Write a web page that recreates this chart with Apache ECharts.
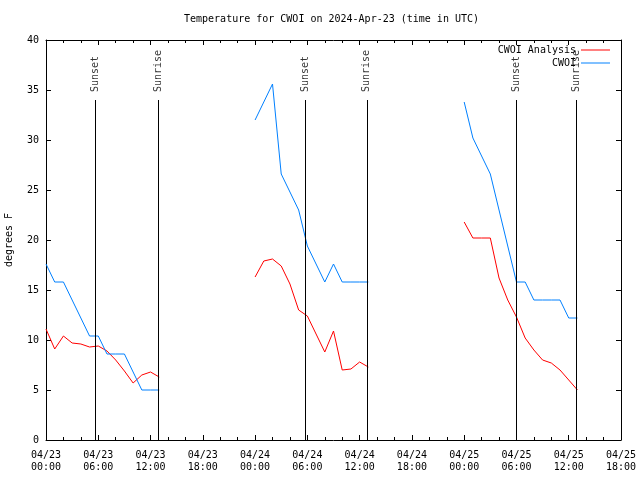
<!DOCTYPE html>
<html>
<head>
<meta charset="utf-8">
<script src="https://cdn.jsdelivr.net/npm/echarts@6/dist/echarts.min.js"></script>
<style>html,body{margin:0;padding:0;background:#fff}#c{width:640px;height:480px}</style>
</head>
<body>
<div id="c"></div>
<script>
// hours since 2024-04-23 00:00 UTC
const hours1 = [0, 1, 2, 3, 4, 5, 6, 7, 8, 9, 10, 11, 12, 13];
const hours2 = [24, 25, 26, 27, 28, 29, 30, 31, 32, 33, 34, 35, 36, 37];
const hours3 = [48, 49, 50, 51, 52, 53, 54, 55, 56, 57, 58, 59, 60, 61];

const analysis1 = [11.1, 9.1, 10.4, 9.7, 9.6, 9.3, 9.4, 8.9, 8.0, 6.9, 5.7, 6.5, 6.8, 6.3];
const analysis2 = [16.3, 17.9, 18.1, 17.4, 15.6, 13.0, 12.4, 10.6, 8.8, 10.9, 7.0, 7.1, 7.8, 7.3];
const analysis3 = [21.8, 20.2, 20.2, 20.2, 16.2, 14.0, 12.3, 10.2, 9.0, 8.0, 7.7, 7.0, 6.0, 5.0];

const obs1 = [17.6, 15.8, 15.8, 14.0, 12.2, 10.4, 10.4, 8.6, 8.6, 8.6, 6.8, 5.0, 5.0, 5.0];
const obs2 = [32.0, 33.8, 35.6, 26.6, 24.8, 23.0, 19.4, 17.6, 15.8, 17.6, 15.8, 15.8, 15.8, 15.8];
const obs3 = [33.8, 30.2, 28.4, 26.6, 23.0, 19.4, 15.8, 15.8, 14.0, 14.0, 14.0, 14.0, 12.2, 12.2];

const sunHours = [5.69, 12.86, 29.80, 36.82, 53.95, 60.85];
const sunNames = ['Sunset', 'Sunrise', 'Sunset', 'Sunrise', 'Sunset', 'Sunrise'];
const sunLineTop = 34;
const sunLabelY = 34.8;

const tickLabels = ['04/23\n00:00', '04/23\n06:00', '04/23\n12:00', '04/23\n18:00',
                    '04/24\n00:00', '04/24\n06:00', '04/24\n12:00', '04/24\n18:00',
                    '04/25\n00:00', '04/25\n06:00', '04/25\n12:00', '04/25\n18:00'];

function buildSeg(hs, vs) {
  const out = [];
  hs.forEach((h, i) => out.push([h, vs[i]]));
  return out;
}
function joinSegs(segs) {
  let out = [];
  segs.forEach((s, i) => {
    if (i > 0) out.push([(s[0][0] + out[out.length - 1][0]) / 2, '-']);
    out = out.concat(s);
  });
  return out;
}
const analysisData = joinSegs([buildSeg(hours1, analysis1), buildSeg(hours2, analysis2), buildSeg(hours3, analysis3)]);
const obsData = joinSegs([buildSeg(hours1, obs1), buildSeg(hours2, obs2), buildSeg(hours3, obs3)]);

const FONT = '"DejaVu Sans Mono", "Liberation Mono", monospace';
const black = '#000';

const chart = echarts.init(document.getElementById('c'), null, {renderer: 'canvas'});
const axisCommonX = {
  type: 'value', min: 0, max: 66, interval: 6,
  axisLine: {show: true, onZero: false, lineStyle: {color: black, width: 1}},
  axisTick: {show: true, inside: true, length: 5, lineStyle: {color: black}},
  minorTick: {show: true, splitNumber: 3, length: 3, lineStyle: {color: black}},
  splitLine: {show: false}, minorSplitLine: {show: false}
};
const axisCommonY = {
  type: 'value', min: 0, max: 40, interval: 5,
  axisLine: {show: true, onZero: false, lineStyle: {color: black, width: 1}},
  axisTick: {show: true, inside: true, length: 5, lineStyle: {color: black}},
  splitLine: {show: false}
};

chart.setOption({
  animation: false,
  backgroundColor: '#fff',
  title: {
    text: 'Temperature for CWOI on 2024-Apr-23 (time in UTC)',
    left: 184, top: 14, padding: 0,
    textStyle: {fontFamily: FONT, fontSize: 10, fontWeight: 'normal', color: black}
  },
  legend: [
    {data: ['CWOI Analysis'], right: 30, top: 45, padding: 0, align: 'right', icon: 'rect',
     itemWidth: 29, itemHeight: 1, selectedMode: false,
     textStyle: {fontFamily: FONT, fontSize: 10, color: black}},
    {data: ['CWOI'], right: 30, top: 58, padding: 0, align: 'right', icon: 'rect',
     itemWidth: 29, itemHeight: 1, selectedMode: false,
     textStyle: {fontFamily: FONT, fontSize: 10, color: black}}
  ],
  grid: {left: 46, right: 19, top: 40, bottom: 40, containLabel: false, outerBoundsMode: 'none'},
  xAxis: [
    Object.assign({}, axisCommonX, {
      position: 'bottom',
      axisLabel: {
        show: true, margin: 9, fontFamily: FONT, fontSize: 10, color: black, lineHeight: 12,
        formatter: v => (v % 6 === 0 ? tickLabels[v / 6] : '')
      }
    }),
    Object.assign({}, axisCommonX, {position: 'top', axisLabel: {show: false}})
  ],
  yAxis: [
    Object.assign({}, axisCommonY, {
      position: 'left',
      name: 'degrees F', nameLocation: 'middle', nameGap: 32, nameRotate: 90,
      nameTextStyle: {fontFamily: FONT, fontSize: 10, color: black},
      axisLabel: {show: true, margin: 7, fontFamily: FONT, fontSize: 10, color: black}
    }),
    Object.assign({}, axisCommonY, {position: 'right', axisLabel: {show: false}})
  ],
  series: [
    {
      name: 'CWOI Analysis', type: 'line', data: analysisData, showSymbol: false, symbol: 'none',
      connectNulls: false, color: '#ff0000', lineStyle: {color: '#ff0000', width: 1}, z: 3
    },
    {
      name: 'CWOI', type: 'line', data: obsData, showSymbol: false, symbol: 'none',
      connectNulls: false, color: '#0080ff', lineStyle: {color: '#0080ff', width: 1}, z: 3
    },
    {
      name: 'sunlines', type: 'line', data: [], silent: true,
      markLine: {
        silent: true, symbol: ['none', 'none'], animation: false,
        label: {show: false},
        lineStyle: {color: black, width: 1, type: 'solid'},
        data: sunHours.map(h => [{coord: [h, 0]}, {coord: [h, sunLineTop]}])
      }
    },
    {
      name: 'sunlabels', type: 'scatter', symbolSize: 0, silent: true,
      data: sunHours.map((h, i) => ({value: [h, sunLabelY], name: sunNames[i]})),
      label: {
        show: true, formatter: p => p.name, position: [0, 0], rotate: 90,
        align: 'left', verticalAlign: 'middle',
        fontFamily: FONT, fontSize: 10, color: black
      }
    }
  ]
});
</script>
</body>
</html>
